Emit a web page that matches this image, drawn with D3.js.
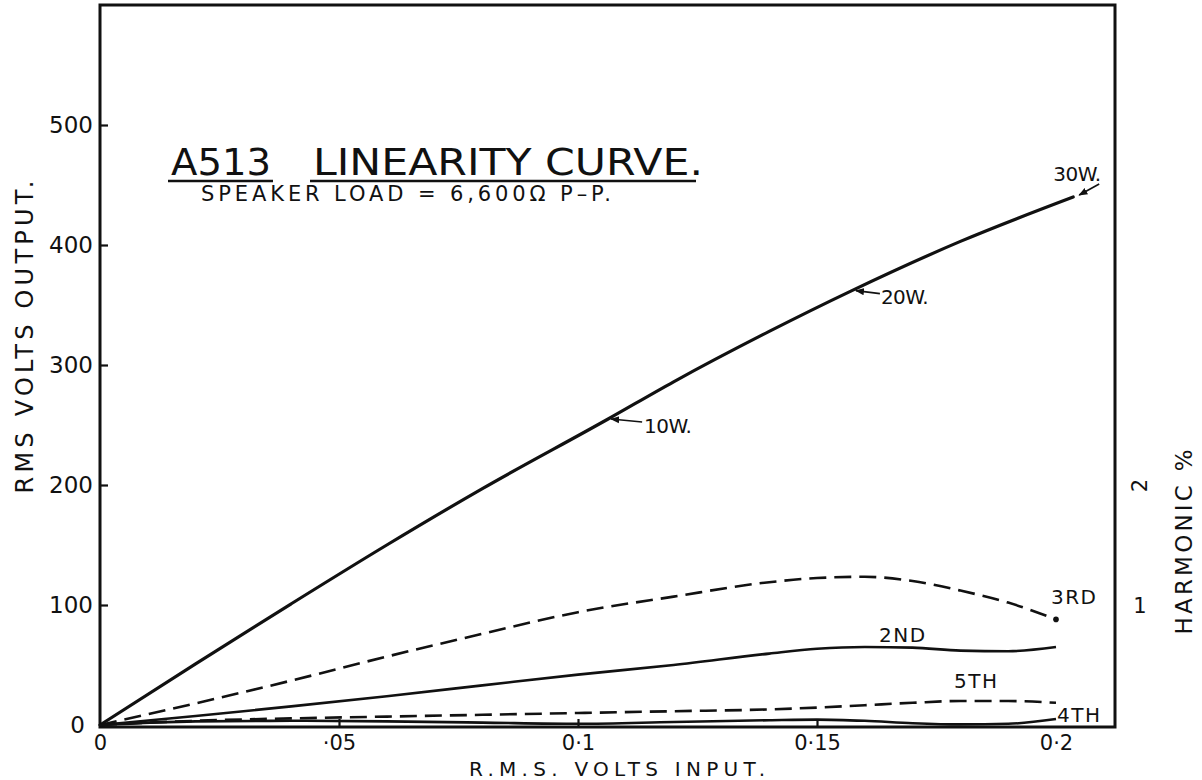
<!DOCTYPE html>
<html>
<head>
<meta charset="utf-8">
<script src="https://cdn.jsdelivr.net/npm/d3@7"></script>
<style>
  html, body { margin: 0; padding: 0; background: #fff; }
  svg { display: block; }
  text { font-family: "DejaVu Sans", sans-serif; fill: #111; }
</style>
</head>
<body>
<svg id="chart" width="1202" height="780"></svg>
<script>
// Output voltage (RMS) against input voltage (RMS)
const inputVolts  = [0, 0.02, 0.04, 0.06, 0.08, 0.1063, 0.12, 0.14, 0.1573, 0.18, 0.2036];
const outputVolts = [0, 51, 101, 150, 197, 255, 286, 328, 362, 403, 440];

// Harmonic content (%) against input voltage (RMS)
const harmonicInput = [0, 0.02, 0.04, 0.06, 0.08, 0.1, 0.12, 0.14, 0.15, 0.16, 0.17, 0.18, 0.19, 0.2];
const secondHarmonic = [0, 0.075, 0.155, 0.24, 0.33, 0.42, 0.5, 0.595, 0.635, 0.65, 0.645, 0.62, 0.615, 0.65];
const thirdHarmonic  = [0, 0.18, 0.37, 0.57, 0.76, 0.94, 1.07, 1.19, 1.225, 1.235, 1.2, 1.12, 1.02, 0.88];
const fourthHarmonic = [0, 0.03, 0.035, 0.03, 0.02, 0.01, 0.025, 0.04, 0.045, 0.035, 0.015, 0.005, 0.01, 0.05];
const fifthHarmonic  = [0, 0.035, 0.055, 0.07, 0.085, 0.1, 0.115, 0.13, 0.145, 0.165, 0.185, 0.2, 0.2, 0.185];

const harmonicNames = ["2ND", "3RD", "4TH", "5TH"];

// Axis ticks
const xTicks = [0, 0.05, 0.1, 0.15, 0.2];
const xTickLabels = ["0", "·05", "0·1", "0·15", "0·2"];
const yTicks = [0, 100, 200, 300, 400, 500];
const harmonicTicks = [1, 2];

// Power markers on the output curve (index into inputVolts / outputVolts)
const powerLabels = ["10W.", "20W.", "30W."];
const powerIndex = [5, 8, 10];

// ---------------------------------------------------------------
const svg = d3.select("#chart");
const W = 1202, H = 780;
svg.append("rect").attr("width", W).attr("height", H).attr("fill", "#fff");

const frame = { left: 100, top: 5, right: 1115, bottom: 727 };

const x = d3.scaleLinear().domain([0, 0.2]).range([100, 1056]);
const y = d3.scaleLinear().domain([0, 600]).range([725, 5]);
const h = d3.scaleLinear().domain([0, 6]).range([725, 5]);

const ink = "#111";

svg.append("defs").append("marker")
  .attr("id", "arrowhead")
  .attr("viewBox", "0 0 10 10")
  .attr("refX", 9).attr("refY", 5)
  .attr("markerWidth", 9).attr("markerHeight", 9)
  .attr("markerUnits", "userSpaceOnUse")
  .attr("orient", "auto")
  .append("path").attr("d", "M0,1 L10,5 L0,9 Z").attr("fill", ink);

// Frame
svg.append("rect")
  .attr("x", frame.left).attr("y", frame.top)
  .attr("width", frame.right - frame.left)
  .attr("height", frame.bottom - frame.top)
  .attr("fill", "none").attr("stroke", ink).attr("stroke-width", 3);

// Left axis
const yAxis = svg.append("g")
  .attr("transform", `translate(${frame.left},0)`)
  .call(d3.axisLeft(y).tickValues(yTicks).tickSizeInner(-8).tickSizeOuter(0).tickPadding(8).tickFormat(d3.format("d")));
yAxis.select(".domain").remove();
yAxis.selectAll(".tick line").attr("stroke", ink).attr("stroke-width", 2.2)
  .attr("display", d => d === 0 ? "none" : null);
yAxis.selectAll(".tick text").attr("font-size", 23).attr("fill", ink)
  .attr("x", d => d === 0 ? -15 : -7);

// Bottom axis
const xAxis = svg.append("g")
  .attr("transform", `translate(0,${frame.bottom})`)
  .call(d3.axisBottom(x).tickValues(xTicks).tickFormat((d, i) => xTickLabels[i])
    .tickSizeInner(-8).tickSizeOuter(0).tickPadding(8));
xAxis.select(".domain").remove();
xAxis.selectAll(".tick line").attr("stroke", ink).attr("stroke-width", 2.2)
  .attr("display", d => (d === 0 || d === 0.2) ? "none" : null);
xAxis.selectAll(".tick text").attr("font-size", 21).attr("fill", ink);

// Right axis: harmonic percentage
const hAxis = svg.append("g")
  .attr("transform", `translate(${frame.right},0)`)
  .call(d3.axisRight(h).tickValues(harmonicTicks).tickSize(0).tickPadding(25).tickFormat(d3.format("d")));
hAxis.select(".domain").remove();
hAxis.selectAll(".tick text").attr("font-size", 21).attr("fill", ink)
  .attr("text-anchor", "middle").attr("dy", "0.35em")
  .attr("transform", d => d === 2 ? "rotate(-90,25,0)" : null);

// Axis titles
svg.append("text")
  .attr("transform", "translate(33,337) rotate(-90)")
  .attr("text-anchor", "middle").attr("font-size", 24)
  .attr("textLength", 313).attr("lengthAdjust", "spacing")
  .text("RMS VOLTS OUTPUT.");

svg.append("text")
  .attr("x", 617).attr("y", 776)
  .attr("text-anchor", "middle").attr("font-size", 20)
  .attr("textLength", 296).attr("lengthAdjust", "spacing")
  .text("R.M.S. VOLTS INPUT.");

svg.append("text")
  .attr("transform", "translate(1192,542) rotate(-90)")
  .attr("text-anchor", "middle").attr("font-size", 23)
  .attr("textLength", 185).attr("lengthAdjust", "spacing")
  .text("HARMONIC %");

// Title block
svg.append("text").attr("x", 171).attr("y", 175).attr("font-size", 38)
  .attr("textLength", 100).attr("lengthAdjust", "spacingAndGlyphs").text("A513");
svg.append("text").attr("x", 313).attr("y", 175).attr("font-size", 38)
  .attr("textLength", 390).attr("lengthAdjust", "spacingAndGlyphs").text("LINEARITY CURVE.");
svg.append("line").attr("x1", 168).attr("x2", 273).attr("y1", 181).attr("y2", 181)
  .attr("stroke", ink).attr("stroke-width", 2.5);
svg.append("line").attr("x1", 310).attr("x2", 696).attr("y1", 181).attr("y2", 181)
  .attr("stroke", ink).attr("stroke-width", 2.5);
svg.append("text").attr("x", 201).attr("y", 201).attr("font-size", 21)
  .attr("textLength", 410).attr("lengthAdjust", "spacing")
  .text("SPEAKER  LOAD = 6,600Ω  P–P.");

// Output curve
const outputData = inputVolts.map((v, i) => [v, outputVolts[i]]);
svg.append("path")
  .datum(outputData)
  .attr("fill", "none").attr("stroke", ink).attr("stroke-width", 3.2)
  .attr("stroke-linecap", "round")
  .attr("d", d3.line().x(d => x(d[0])).y(d => y(d[1])).curve(d3.curveMonotoneX));

// Harmonic curves
const harmonicSeries = [
  { name: harmonicNames[0], values: secondHarmonic, dashed: false, label: [879, 642] },
  { name: harmonicNames[1], values: thirdHarmonic,  dashed: true,  label: [1051, 604] },
  { name: harmonicNames[2], values: fourthHarmonic, dashed: false, label: [1057, 722] },
  { name: harmonicNames[3], values: fifthHarmonic,  dashed: true,  label: [954, 688] }
];
const hLine = d3.line().x(d => x(d[0])).y(d => h(d[1])).curve(d3.curveMonotoneX);

harmonicSeries.forEach(s => {
  const data = harmonicInput.map((v, i) => [v, s.values[i]]);
  svg.append("path")
    .datum(data)
    .attr("fill", "none").attr("stroke", ink).attr("stroke-width", 2.6)
    .attr("stroke-dasharray", s.dashed ? "17,8" : null)
    .attr("d", hLine);
  svg.append("text")
    .attr("x", s.label[0]).attr("y", s.label[1])
    .attr("font-size", 20).attr("letter-spacing", 1.5)
    .text(s.name);
});

// End dot on the third harmonic curve
const lastIdx = harmonicInput.length - 1;
svg.append("circle")
  .attr("cx", x(harmonicInput[lastIdx])).attr("cy", h(thirdHarmonic[lastIdx]))
  .attr("r", 2.8).attr("fill", ink);

// Power annotations
const annotationLayout = [
  { text: [36, 14], from: [34, 3], to: [3, 0] },
  { text: [29, 13], from: [28, 3], to: [4, 0] },
  { text: [-20, -16], from: [26, -13], to: [6, -2] }
];
powerLabels.forEach((label, i) => {
  const px = x(inputVolts[powerIndex[i]]);
  const py = y(outputVolts[powerIndex[i]]);
  const L = annotationLayout[i];
  svg.append("line")
    .attr("x1", px + L.from[0]).attr("y1", py + L.from[1])
    .attr("x2", px + L.to[0]).attr("y2", py + L.to[1])
    .attr("stroke", ink).attr("stroke-width", 1.6)
    .attr("marker-end", "url(#arrowhead)");
  svg.append("text")
    .attr("x", px + L.text[0]).attr("y", py + L.text[1])
    .attr("font-size", 20).attr("letter-spacing", -0.5)
    .text(label);
});
</script>
</body>
</html>
